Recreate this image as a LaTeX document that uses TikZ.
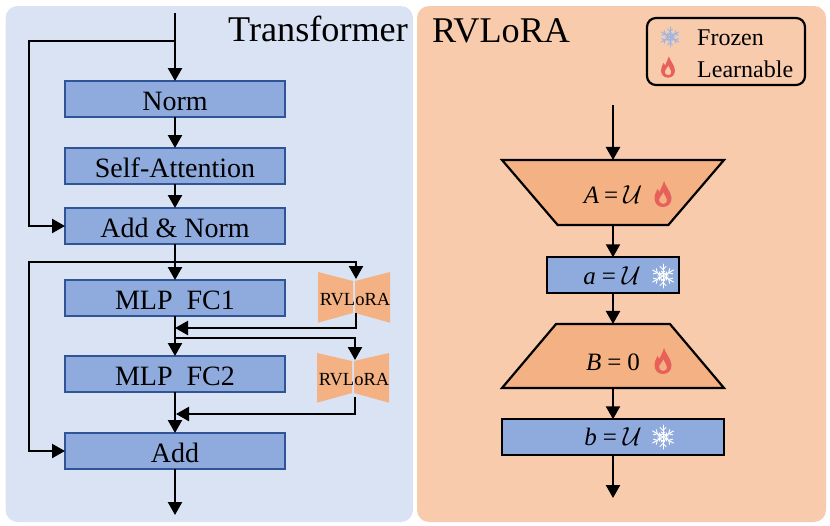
\documentclass[tikz,border=0pt]{standalone}
\usepackage{fix-cm}
\usepackage{fontspec}
\setmainfont{Liberation Serif}
\usetikzlibrary{arrows.meta,shapes.geometric,calc}
\definecolor{panelblue}{HTML}{DAE3F3}
\definecolor{panelorange}{HTML}{F8CBAD}
\definecolor{boxblue}{HTML}{8FAADC}
\definecolor{boxedge}{HTML}{2F5597}
\definecolor{boxorange}{HTML}{F4B183}
\definecolor{flamered}{HTML}{E8605A}
\definecolor{frostblue}{HTML}{9DB4E4}
\newcommand{\eqline}[3]{#1\hspace{#3}=\hspace{#3}#2}
\newcommand{\calU}{{\fontsize{26}{28}\selectfont$\mathcal{U}$}}
\tikzset{
  x=1pt,y=-1pt,
  panel/.style={rounded corners=12pt,draw=none},
  block/.style={draw=boxedge,fill=boxblue,line width=2pt,minimum width=220pt,minimum height=36pt,inner sep=0pt,outer sep=0pt,
    text height=22pt,text depth=0pt,font=\fontsize{28}{30}\selectfont},
  conn/.style={line width=2.3pt,-{Triangle[width=14pt,length=13pt]}},
  wing/.style={fill=boxorange,draw=none},
  rvtext/.style={inner sep=0pt,text height=12pt,text depth=0pt,font=\fontsize{18.5}{20}\selectfont},
  title/.style={inner sep=0pt,anchor=base west,font=\fontsize{36.2}{40}\selectfont},
  eqbox/.style={draw=black,fill=boxblue,line width=2.2pt,inner sep=0pt,outer sep=0pt,minimum height=35.5pt},
  trap/.style={draw=black,fill=boxorange,line width=2.2pt,trapezium,trapezium stretches=true,inner sep=2pt,outer sep=0pt,
    trapezium left angle=#1,trapezium right angle=#1},
  eqtext/.style={inner sep=0pt,font=\fontsize{25}{28}\selectfont},
  legendtext/.style={inner sep=0pt,anchor=base west,font=\fontsize{24}{28}\selectfont},
  pics/flameicon/.style={code={
    \fill[flamered,even odd rule] (0,13) .. controls (-5.5,13) and (-8.5,9) .. (-8.5,4)
      .. controls (-8.5,0) and (-6.5,-2) .. (-5.5,-5) .. controls (-4.5,-4) and (-4,-3) .. (-3.5,-2)
      .. controls (-2,-6) and (0,-9) .. (1,-13) .. controls (2,-8) and (8,-3) .. (8.5,4)
      .. controls (8.5,9) and (5.5,13) .. (0,13) -- cycle
      (0,10) .. controls (-3,10) and (-4,7.5) .. (-4,5.5) .. controls (-4,3) and (-1,2) .. (0.5,-2)
      .. controls (1.5,2) and (4,3) .. (4,6) .. controls (4,8.5) and (3,10) .. (0,10) -- cycle;
  }},
  pics/snowicon/.style={code={
    \foreach \ang in {30,90,150,210,270,330}{
      \begin{scope}[rotate=\ang,draw=#1,line width=1pt,line cap=round]
        \draw (0,0) -- (12,0);
        \draw (3.5,0) -- (5,1.8) (3.5,0) -- (5,-1.8);
        \draw (6.5,0) -- (9.5,3) (6.5,0) -- (9.5,-3);
        \draw (3,1.7) -- (3,-1.7);
      \end{scope}
    }
  }}
}
\begin{document}
\begin{tikzpicture}
\useasboundingbox (0,0) rectangle (830,525);
% panels
\fill[panel,panelblue] (5.5,6) rectangle (413,522);
\fill[panel,panelorange] (417,6) rectangle (826,522);
% titles
\node[title] (ttrans) at (228,41) {Transformer};
\node[title] (trv) at (432,42) {RVLoRA};
% RVLoRA butterflies
\fill[wing] (318,272) -- (353,281) -- (353,313) -- (318,322.7) -- cycle;
\fill[wing] (390,272) -- (355,281) -- (355,313) -- (390,322.7) -- cycle;
\fill[wing] (317,353) -- (352,361) -- (352,393) -- (317,402.7) -- cycle;
\fill[wing] (389,353) -- (354,361) -- (354,393) -- (389,402.7) -- cycle;
\node[rvtext] (rv1) at (355,299) {RVLoRA};
\node[rvtext] (rv2) at (354,379) {RVLoRA};
% left blocks
\node[block] (norm) at (175,99) {Norm};
\node[block] (sa) at (175,166) {Self-Attention};
\node[block] (an) at (175,226) {Add \& Norm};
\node[block] (fc1) at (175,298) {MLP\ \ FC1};
\node[block] (fc2) at (175,374) {MLP\ \ FC2};
\node[block] (add) at (175,451) {Add};
% free ends and junctions
\coordinate (in) at (175,13);
\coordinate (out) at (175,515);
\coordinate (j1) at (175,41);
\coordinate (l1) at (29,41);
\coordinate (j2) at (175,262);
\coordinate (l2) at (29,262);
\coordinate (r1in) at (356,279);
\coordinate (r1out) at (356,313);
\coordinate (r1c) at (356,328);
\coordinate (j3) at (175,328);
\coordinate (j4) at (175,338);
\coordinate (r2t) at (355,338);
\coordinate (r2in) at (355,360);
\coordinate (r2out) at (355,397);
\coordinate (r2c) at (355,414);
\coordinate (j5) at (176,414);
% connectors
\draw[conn] (in) -- (norm.north);
\draw[conn] (norm.south) -- (sa.north);
\draw[conn] (sa.south) -- (an.north);
\draw[conn] (an.south) -- (fc1.north);
\draw[conn] (fc1.south) -- (fc2.north);
\draw[conn] (fc2.south) -- (add.north);
\draw[conn] (add.south) -- (out);
\draw[conn] (j1) -- (l1) |- (an.west);
\draw[conn] (j2) -- (l2) |- (add.west);
\draw[conn] (l2) -| (r1in);
\draw[conn] (r1out) -- (r1c) -- (j3);
\draw[conn] (j4) -- (r2t) -- (r2in);
\draw[conn] (r2out) -- (r2c) -- (j5);
% right column
\node[trap=63.3,shape border rotate=180,minimum width=222pt,minimum height=65pt] (ta) at (613,192.5) {};
\node[eqbox,minimum width=132pt] (ba) at (613,275) {};
\node[trap=64.6,minimum width=222pt,minimum height=64pt] (tb) at (613,356) {};
\node[eqbox,minimum width=222pt] (bb) at (613,437) {};
\coordinate (rin) at (613,105);
\coordinate (rout) at (613,498);
\draw[conn] (rin) -- (ta.north);
\draw[conn] (ta.south) -- (ba.north);
\draw[conn] (ba.south) -- (tb.north);
\draw[conn] (tb.south) -- (bb.north);
\draw[conn] (bb.south) -- (rout);
\node[eqtext] (ea) at (613,195) {\eqline{\textit{A}}{\calU}{5pt}};
\node[eqtext] (eb) at (612,276) {\eqline{\textit{a}}{\calU}{6pt}};
\node[eqtext] (ec) at (613,362) {\eqline{\textit{B}}{0}{6pt}};
\node[eqtext] (ed) at (613,437) {\eqline{\textit{b}}{\calU}{6pt}};
\pic at (663,194) {flameicon};
\pic at (663,276) {snowicon={white}};
\pic at (663,361) {flameicon};
\pic at (663,437) {snowicon={white}};
% legend
\draw[line width=2.2pt,rounded corners=9pt] (647,18) rectangle (805,85);
\pic[scale=0.85] at (670,37) {snowicon={frostblue}};
\pic[scale=0.82] at (668,67) {flameicon};
\node[legendtext] (lf) at (697,45) {Frozen};
\node[legendtext] (ll) at (697,77) {Learnable};
\end{tikzpicture}
\end{document}
